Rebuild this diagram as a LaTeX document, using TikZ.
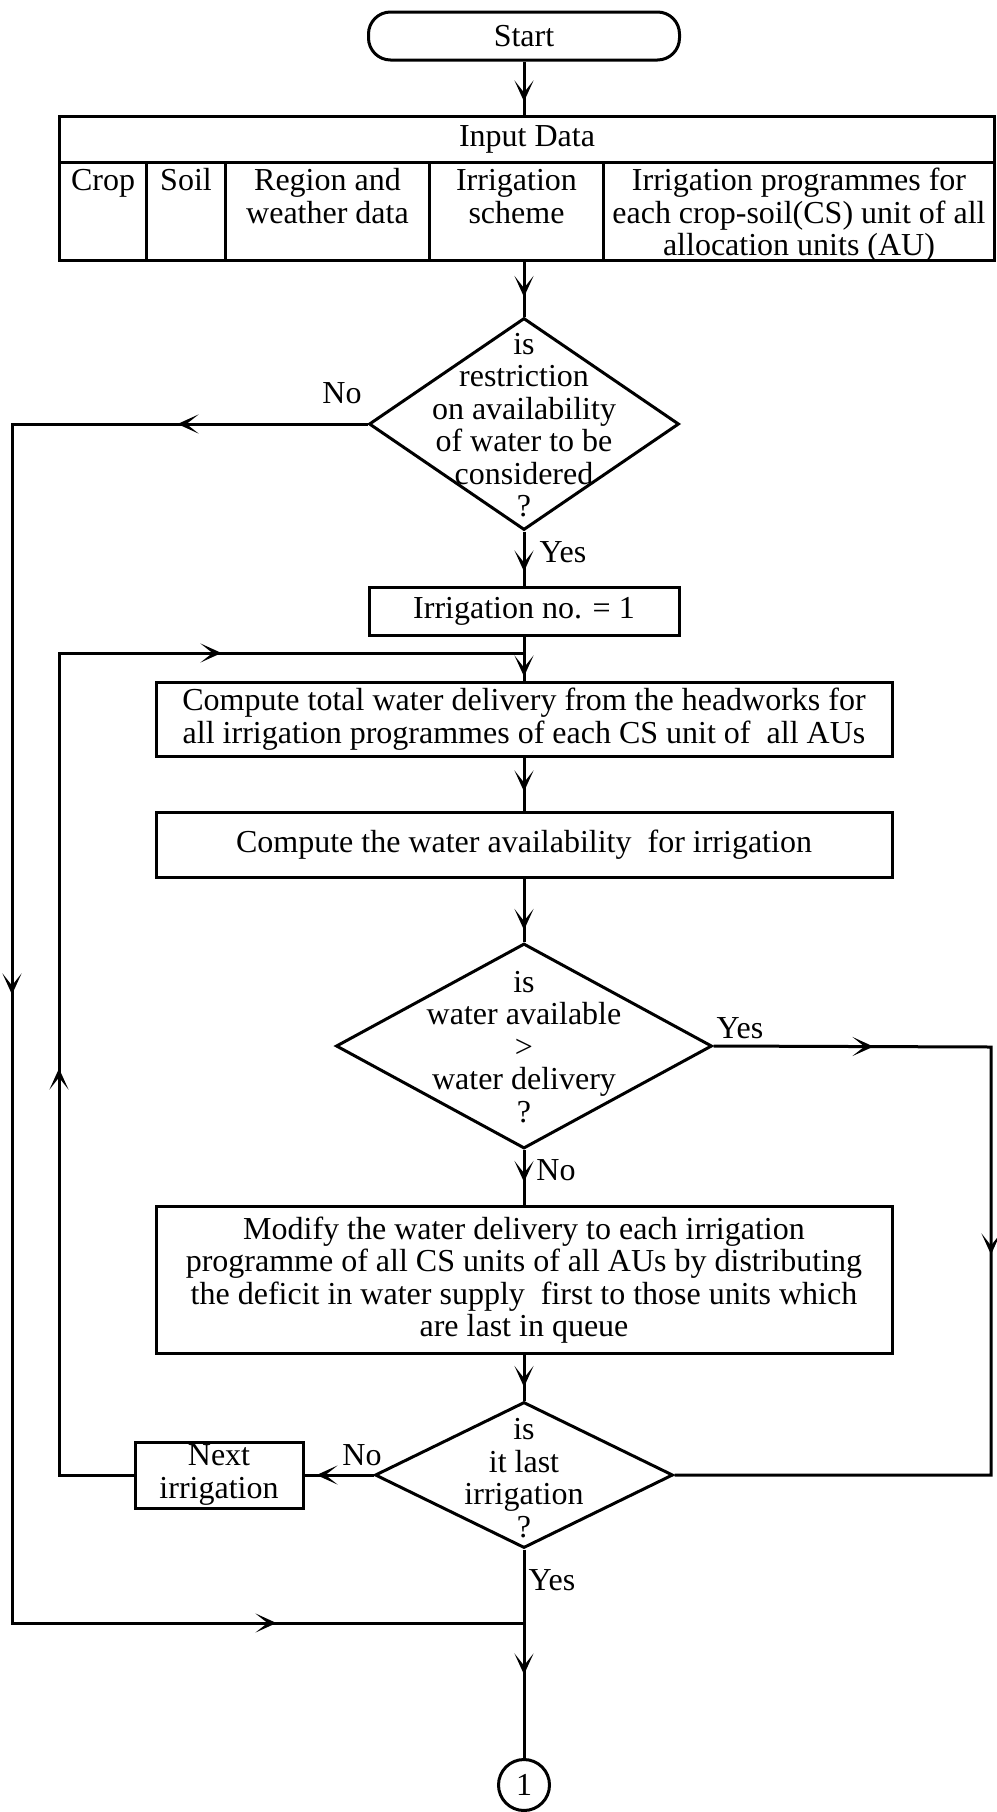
\documentclass[tikz,border=0pt]{standalone}
\usepackage{fontspec}
\setmainfont{Liberation Serif}
\usetikzlibrary{arrows.meta,shapes.geometric,decorations.markings}

\tikzset{
  >={Stealth[length=21pt,width=19pt,inset=12pt]},
  base/.style={line width=3pt},
  box/.style={base, draw, rectangle, inner sep=0pt, align=center},
  cell/.style={base, draw, rectangle, inner sep=0pt, anchor=north west},
  decision/.style={base, draw, diamond, inner sep=0pt},
  dtext/.style={align=center, inner sep=0pt},
  flow/.style={base, draw, line join=miter},
  tipat/.style={postaction={decorate, decoration={markings, mark=at position #1pt with {\arrow{>}}}}},
  lbl/.style={inner sep=0pt},
}
\newcommand{\celltext}[2]{\parbox[c][98pt][t]{#1}{\centering\rule{0pt}{28pt}#2}}

\begin{document}
\begin{tikzpicture}[x=1pt, y=-1pt, font=\fontsize{32}{32.5}\selectfont]
\useasboundingbox (0,0) rectangle (996,1812);

% terminal
\node[box, rounded corners=22pt, minimum width=311pt, minimum height=48pt] (start) at (524,36) {Start};

% input data table
\node[cell, minimum width=935pt, minimum height=46pt] (title) at (58,115) {Input Data};
\node[cell, minimum width=87pt] (crop) at (58,161) {\celltext{85pt}{Crop}};
\node[cell, minimum width=79pt] (soil) at (145,161) {\celltext{77pt}{Soil}};
\node[cell, minimum width=204pt] (region) at (224,161) {\celltext{200pt}{Region and\\weather data}};
\node[cell, minimum width=174pt] (scheme) at (428,161) {\celltext{170pt}{Irrigation\\scheme}};
\node[cell, minimum width=391pt] (prog) at (602,161) {\celltext{391pt}{Irrigation programmes for\\each crop-soil(CS) unit of all\\allocation units (AU)}};

% first decision
\node[decision, minimum width=310pt, minimum height=212pt] (d1) at (524,424) {};
\node[dtext] (d1t) at (524,425) {is\\restriction\\on availability\\of water to be\\considered\\?};

\node[box, minimum width=310pt, minimum height=48pt] (irr1) at (524,611) {Irrigation no. = 1};
\node[box, minimum width=736pt, minimum height=74pt] (ct) at (524,719)
  {Compute total water delivery from the headworks for\\all irrigation programmes of each CS unit of\ \ all AUs};
\node[box, minimum width=736pt, minimum height=65pt] (ca) at (524,845)
  {Compute the water availability\ \ for irrigation};

% second decision
\node[decision, minimum width=376pt, minimum height=205pt] (d2) at (524,1046) {};
\node[dtext] (d2t) at (524,1047) {is\\water available\\\textgreater\\water delivery\\?};

\node[box, minimum width=736pt, minimum height=147pt] (mod) at (524,1280)
  {Modify the water delivery to each irrigation\\programme of all CS units of all AUs by distributing\\the deficit in water supply\ \ first to those units which\\are last in queue};

% third decision
\node[decision, minimum width=298pt, minimum height=146pt] (d3) at (524,1475) {};
\node[dtext] (d3t) at (524,1478) {is\\it last\\irrigation\\?};

\node[box, minimum width=168pt, minimum height=66pt] (next) at (219,1475) {Next\\irrigation};

% connector
\node[base, draw, circle, minimum size=51pt, inner sep=0pt] (c1) at (524,1785) {1};

% branch labels
\node[lbl] (l1no) at (342,393) {No};
\node[lbl] (l1yes) at (563,552) {Yes};
\node[lbl] (l2yes) at (740,1028) {Yes};
\node[lbl] (l2no) at (556,1170) {No};
\node[lbl] (l3no) at (362,1455) {No};
\node[lbl] (l3yes) at (552,1580) {Yes};

% routing points
\coordinate (j1) at (524,653);
\coordinate (j2) at (524,1623);
\coordinate (ol1) at (12,424);
\coordinate (ol2) at (12,1623);
\coordinate (il1) at (59,1475);
\coordinate (il2) at (59,653);
\coordinate (r1) at (991,1047);
\coordinate (r2) at (991,1475);

% main flow
\draw[flow, tipat=40] (start.south) -- (start.south |- title.north);
\draw[flow, tipat=35] (d1.north |- scheme.south) -- (d1.north);
\draw[flow, tipat=40] (d1.south) -- (irr1.north);
\draw[flow, tipat=40] (irr1.south) -- (ct.north);
\draw[flow, tipat=34] (ct.south) -- (ca.north);
\draw[flow, tipat=51] (ca.south) -- (d2.north);
\draw[flow, tipat=32] (d2.south) -- (mod.north);
\draw[flow, tipat=32] (mod.south) -- (d3.north);
\draw[flow, tipat=125] (d3.south) -- (c1.north);

% bypass when no restriction
\draw[flow, tipat=190, tipat=926, tipat=1819] (d1.west) -- (ol1) -- (ol2) -- (j2);

% enough water: skip modification
\draw[flow, tipat=160, tipat=485] (d2.east) -- (r1) -- (r2) -- (d3.east);

% loop to next irrigation
\draw[flow, tipat=57] (d3.west) -- (next.east);
\draw[flow, tipat=481, tipat=1059] (next.west) -- (il1) -- (il2) -- (j1);
\end{tikzpicture}
\end{document}
